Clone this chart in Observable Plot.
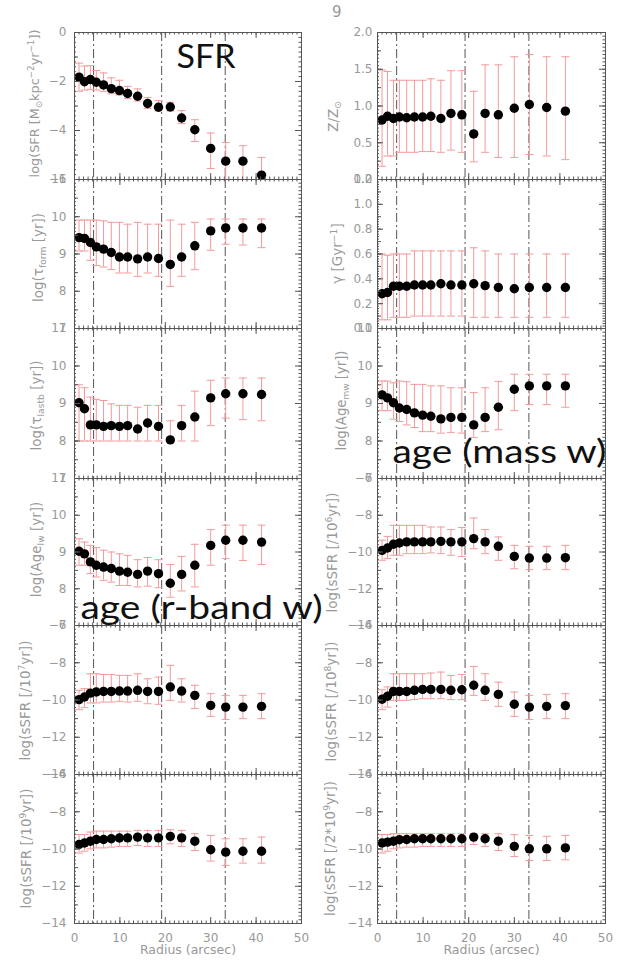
<!DOCTYPE html>
<html><head><meta charset="utf-8">
<script src="https://cdn.jsdelivr.net/npm/d3@7"></script>
<script src="https://cdn.jsdelivr.net/npm/@observablehq/plot@0.6"></script>
<style>
body{margin:0;background:#fff;}
#wrap{position:relative;width:621px;height:966px;overflow:hidden;background:#fff;}
#wrap svg{position:absolute;overflow:visible;}
#pg{position:absolute;left:332px;top:3px;font:15px "DejaVu Sans",sans-serif;color:#999;}
</style></head><body><div id="wrap"><div id="pg">9</div></div>
<script>
// ---------- data ----------
const radius = [1.0,2.2,3.5,4.8,6.4,8.1,9.9,11.7,13.9,16.1,18.5,21.1,23.6,26.5,30.0,33.3,37.1,41.2];
const vlines = [4.2,19.2,33.2];
const xMajor = [0,10,20,30,40,50];

const sfrV  = [-1.82,-2.01,-1.92,-2.03,-2.14,-2.29,-2.37,-2.49,-2.60,-2.90,-3.05,-3.04,-3.49,-3.97,-4.73,-5.25,-5.25,-5.82];
const sfrLo = [-2.40,-2.35,-2.32,-2.35,-2.40,-2.50,-2.55,-2.70,-2.80,-3.10,-3.20,-3.20,-3.72,-4.45,-5.55,-6.30,-6.30,-6.30];
const sfrHi = [-1.25,-1.37,-1.35,-1.55,-1.65,-1.85,-1.95,-2.20,-2.30,-2.65,-2.78,-2.85,-3.19,-3.56,-4.10,-4.49,-4.62,-5.10];

const zV  = [0.81,0.86,0.83,0.85,0.84,0.85,0.85,0.86,0.83,0.90,0.88,0.62,0.90,0.88,0.97,1.02,0.98,0.93];
const zLo = [0.18,0.32,0.32,0.37,0.37,0.37,0.38,0.38,0.37,0.40,0.37,0.24,0.37,0.30,0.30,0.34,0.32,0.27];
const zHi = [1.49,1.47,1.35,1.35,1.35,1.35,1.35,1.37,1.35,1.48,1.48,1.20,1.56,1.56,1.67,1.70,1.67,1.67];

const gV  = [0.28,0.29,0.34,0.34,0.34,0.35,0.35,0.35,0.36,0.35,0.35,0.36,0.345,0.33,0.32,0.33,0.33,0.33];
const gLo = [0.07,0.07,0.09,0.09,0.09,0.10,0.10,0.10,0.10,0.10,0.10,0.09,0.09,0.09,0.09,0.09,0.09,0.09];
const gHi = [0.60,0.59,0.60,0.60,0.60,0.625,0.625,0.625,0.625,0.625,0.625,0.65,0.625,0.60,0.60,0.60,0.60,0.60];

const tfV  = [9.44,9.42,9.31,9.19,9.13,9.04,8.92,8.92,8.87,8.92,8.88,8.72,8.92,9.22,9.62,9.70,9.70,9.70];
const tfLo = [9.08,9.08,8.83,8.69,8.65,8.58,8.49,8.49,8.40,8.49,8.40,8.13,8.40,8.58,9.10,9.26,9.24,9.17];
const tfHi = [9.91,9.91,9.91,9.91,9.89,9.85,9.85,9.80,9.85,9.80,9.80,9.91,9.80,9.85,9.94,9.94,9.94,9.94];

const tlV  = [9.02,8.86,8.43,8.43,8.39,8.41,8.39,8.41,8.32,8.48,8.39,8.03,8.41,8.64,9.15,9.26,9.26,9.24];
const tlLo = [8.00,8.00,8.00,8.00,8.00,8.00,8.00,8.00,8.00,8.00,8.00,7.98,8.00,8.00,8.41,8.61,8.57,8.54];
const tlHi = [9.50,9.42,9.17,9.11,9.08,8.99,8.95,8.95,8.90,8.95,8.95,8.54,8.95,9.33,9.62,9.68,9.68,9.68];

const amV  = [9.23,9.15,9.02,8.88,8.84,8.75,8.69,8.66,8.59,8.63,8.63,8.43,8.63,8.90,9.38,9.47,9.47,9.47];
const amLo = [8.81,8.81,8.58,8.52,8.43,8.36,8.25,8.25,8.21,8.23,8.21,8.09,8.25,8.30,8.81,8.97,8.97,8.90];
const amHi = [9.60,9.60,9.55,9.60,9.58,9.51,9.51,9.47,9.47,9.42,9.42,9.29,9.42,9.59,9.78,9.78,9.78,9.78];

const alV  = [9.02,8.95,8.73,8.64,8.59,8.55,8.48,8.45,8.39,8.48,8.41,8.15,8.39,8.64,9.18,9.32,9.32,9.27];
const alLo = [8.64,8.64,8.41,8.32,8.23,8.18,8.09,8.09,8.05,8.07,8.03,7.77,7.94,8.05,8.64,8.82,8.77,8.66];
const alHi = [9.36,9.27,9.18,9.12,9.05,9.00,8.95,8.91,8.79,8.85,8.79,8.66,8.88,9.21,9.61,9.73,9.73,9.73];

const s6V  = [-9.91,-9.78,-9.58,-9.51,-9.45,-9.45,-9.45,-9.45,-9.42,-9.45,-9.45,-9.27,-9.45,-9.69,-10.24,-10.33,-10.33,-10.31];
const s6Lo = [-10.45,-10.36,-10.18,-10.18,-10.09,-10.09,-10.09,-10.05,-10.09,-10.18,-10.24,-9.82,-10.09,-10.45,-10.91,-10.96,-10.96,-10.96];
const s6Hi = [-9.36,-9.15,-8.55,-8.55,-8.55,-8.55,-8.55,-8.64,-8.64,-8.78,-8.67,-8.15,-8.78,-9.18,-9.64,-9.69,-9.69,-9.64];

const s7V  = [-9.98,-9.84,-9.63,-9.57,-9.54,-9.54,-9.52,-9.52,-9.48,-9.54,-9.54,-9.30,-9.52,-9.75,-10.29,-10.38,-10.38,-10.34];
const s7Lo = [-10.52,-10.41,-10.16,-10.16,-10.11,-10.11,-10.07,-10.11,-10.07,-10.20,-10.23,-10.02,-10.11,-10.46,-10.88,-11.05,-11.00,-11.00];
const s7Hi = [-9.48,-9.39,-8.59,-8.59,-8.63,-8.63,-8.68,-8.68,-8.59,-8.86,-8.77,-8.14,-8.86,-9.21,-9.66,-9.75,-9.75,-9.66];

const s8V  = [-9.96,-9.80,-9.54,-9.54,-9.54,-9.48,-9.43,-9.43,-9.43,-9.48,-9.45,-9.21,-9.48,-9.70,-10.23,-10.38,-10.34,-10.30];
const s8Lo = [-10.52,-10.38,-10.02,-10.02,-10.02,-9.98,-9.93,-9.93,-9.93,-9.98,-9.98,-9.75,-10.02,-10.34,-10.88,-11.05,-11.00,-11.00];
const s8Hi = [-9.45,-9.30,-8.59,-8.59,-8.59,-8.59,-8.59,-8.55,-8.50,-8.68,-8.63,-8.20,-8.59,-9.04,-9.57,-9.75,-9.70,-9.66];

const s9V  = [-9.76,-9.68,-9.58,-9.49,-9.49,-9.45,-9.41,-9.40,-9.36,-9.40,-9.40,-9.32,-9.40,-9.58,-10.04,-10.17,-10.12,-10.12];
const s9Lo = [-10.22,-10.12,-9.99,-9.94,-9.94,-9.90,-9.86,-9.86,-9.81,-9.86,-9.86,-9.72,-9.86,-10.08,-10.65,-10.88,-10.76,-10.76];
const s9Hi = [-9.22,-9.22,-9.09,-9.04,-9.04,-9.04,-9.04,-9.04,-9.00,-9.00,-9.00,-8.96,-9.00,-9.18,-9.27,-9.45,-9.45,-9.36];

const s29V  = [-9.68,-9.63,-9.58,-9.50,-9.49,-9.45,-9.45,-9.45,-9.45,-9.45,-9.45,-9.36,-9.45,-9.58,-9.86,-9.99,-9.99,-9.94];
const s29Lo = [-10.22,-10.12,-9.99,-9.94,-9.90,-9.90,-9.86,-9.86,-9.86,-9.86,-9.86,-9.76,-9.86,-10.08,-10.40,-10.62,-10.62,-10.58];
const s29Hi = [-9.22,-9.22,-9.18,-9.18,-9.18,-9.18,-9.18,-9.18,-9.18,-9.18,-9.18,-9.18,-9.18,-9.18,-9.23,-9.27,-9.32,-9.27];

const sfrTicks = [-6,-4,-2,0];
const zTicks = [0,0.5,1,1.5,2];
const gTicks = [0,0.2,0.4,0.6,0.8,1.0,1.2];
const ageTicks = [7,8,9,10,11];
const ssfrTicks = [-14,-12,-10,-8,-6];

const titles = [
  "log(SFR [M_{⊙}kpc^{−2}yr^{−1}])", "Z/Z_{⊙}",
  "log(τ_{form} [yr])", "γ [Gyr^{−1}]",
  "log(τ_{lastb} [yr])", "log(Age_{mw} [yr])",
  "log(Age_{lw} [yr])", "log(sSFR [/10^{6}yr])",
  "log(sSFR [/10^{7}yr])", "log(sSFR [/10^{8}yr])",
  "log(sSFR [/10^{9}yr])", "log(sSFR [/2*10^{9}yr])"
];
const notes = ["SFR", "age (mass w)", "age (r-band w)"];

// ---------- layout / style ----------
const COLS = [{x:74, w:227, mL:74, pad:8}, {x:377, w:228, mL:70, pad:5}];
const ROWS = [32,179,328,478,625,774,923];
const GREY = "#999", FR = "#555", ERR = "#f39a9a";
const TXT = "DejaVu Sans, Liberation Sans, sans-serif";

// tdx: horizontal offset of y title from frame; tlen: title length (px); tcy: title centre (page y)
const panels = [
  {col:0,row:0,v:sfrV,lo:sfrLo,hi:sfrHi,ticks:sfrTicks,fmt:"d",tdx:-40,tlen:148,tcy:103},
  {col:1,row:0,v:zV,lo:zLo,hi:zHi,ticks:zTicks,fmt:".1f",tdx:-44,tlen:42,tcy:116},
  {col:0,row:1,v:tfV,lo:tfLo,hi:tfHi,ticks:ageTicks,fmt:"d",tdx:-36,tlen:90,tcy:257},
  {col:1,row:1,v:gV,lo:gLo,hi:gHi,ticks:gTicks,fmt:".1f",tdx:-40,tlen:73,tcy:253},
  {col:0,row:2,v:tlV,lo:tlLo,hi:tlHi,ticks:ageTicks,fmt:"d",tdx:-38,tlen:96,tcy:405},
  {col:1,row:2,v:amV,lo:amLo,hi:amHi,ticks:ageTicks,fmt:"d",tdx:-36,tlen:100,tcy:400},
  {col:0,row:3,v:alV,lo:alLo,hi:alHi,ticks:ageTicks,fmt:"d",tdx:-38,tlen:98,tcy:549},
  {col:1,row:3,v:s6V,lo:s6Lo,hi:s6Hi,ticks:ssfrTicks,fmt:"d",tdx:-45,tlen:142,tcy:552},
  {col:0,row:4,v:s7V,lo:s7Lo,hi:s7Hi,ticks:ssfrTicks,fmt:"d",tdx:-49,tlen:138,tcy:700},
  {col:1,row:4,v:s8V,lo:s8Lo,hi:s8Hi,ticks:ssfrTicks,fmt:"d",tdx:-46,tlen:140,tcy:701},
  {col:0,row:5,v:s9V,lo:s9Lo,hi:s9Hi,ticks:ssfrTicks,fmt:"d",tdx:-48,tlen:137,tcy:848},
  {col:1,row:5,v:s29V,lo:s29Lo,hi:s29Hi,ticks:ssfrTicks,fmt:"d",tdx:-47,tlen:144,tcy:848}
];
const noteCfg = {
  0: {i:0, dx:102, dy:35, w:59},
  5: {i:1, dx:15, dy:134, w:214},
  6: {i:2, dx:6, dy:140, w:242}
};

const capSymbol = {draw(ctx){ ctx.moveTo(-4,0); ctx.lineTo(4,0); }};

function richify(el, markup){
  const t = d3.select(el);
  t.text(null);
  const re = /([_^])\{([^}]*)\}|([^_^]+)/g;
  let m, shift = 0;
  while ((m = re.exec(markup))){
    if (m[3]) {
      const s = t.append("tspan").text(m[3]);
      if (shift) { s.attr("dy", -shift); shift = 0; }
    } else {
      const d = m[1] === "_" ? 3.5 : -4.5;
      t.append("tspan").attr("font-size","0.68em").attr("dy", d - shift).text(m[2]);
      shift = d;
    }
  }
}
function findText(svg, s){
  let found = null;
  d3.select(svg).selectAll("text").each(function(){ if (!found && this.textContent === s) found = this; });
  return found;
}

const wrap = document.getElementById("wrap");

panels.forEach((p, k) => {
  const c = COLS[p.col];
  const top = ROWS[p.row], fh = ROWS[p.row+1] - ROWS[p.row], fw = c.w;
  const mT = 10, mB = p.row === 5 ? 45 : 10, mR = 8, mL = c.mL;
  const data = radius.map((r,i) => ({r, v:p.v[i], lo:p.lo[i], hi:p.hi[i]}));
  const t = p.ticks, step = t[1]-t[0], y0 = t[0], y1 = t[t.length-1];
  const half = d3.range(0, Math.round((y1-y0)/step*2)+1).map(i => y0 + i*step/2);
  const fine = d3.range(0, Math.round((y1-y0)/step*10)+1).map(i => y0 + i*step/10);
  const xMinor = d3.range(0, 51, 1);
  const marks = [
    Plot.ruleX(vlines, {stroke: FR, strokeWidth: 1, strokeDasharray: "9,3,2,3"}),
    Plot.ruleX(data, {x:"r", y1:"lo", y2:"hi", stroke: ERR, strokeWidth: 1, clip: true}),
    Plot.dot(data, {x:"r", y:"lo", symbol: capSymbol, r: 4, stroke: ERR, fill: "none", strokeWidth: 1, clip: true}),
    Plot.dot(data, {x:"r", y:"hi", symbol: capSymbol, r: 4, stroke: ERR, fill: "none", strokeWidth: 1, clip: true}),
    Plot.dot(data, {x:"r", y:"v", r: 4.7, fill: "#000", stroke: "none"}),
    // y ticks (inward)
    Plot.tickY(t, {insetRight: fw-6, stroke: FR}),
    Plot.tickY(half, {insetRight: fw-4, stroke: FR}),
    Plot.tickY(fine, {insetRight: fw-2, stroke: FR}),
    Plot.tickY(t, {insetLeft: fw-6, stroke: FR}),
    Plot.tickY(fine, {insetLeft: fw-2.5, stroke: FR}),
    // x ticks (inward, top and bottom)
    Plot.tickX(xMajor, {insetBottom: fh-6, stroke: FR}),
    Plot.tickX(xMajor, {insetTop: fh-6, stroke: FR}),
    Plot.tickX(xMinor, {insetBottom: fh-2.5, stroke: FR}),
    Plot.tickX(xMinor, {insetTop: fh-2.5, stroke: FR}),
    Plot.frame({stroke: FR, strokeWidth: 1}),
    Plot.axisY(t, {anchor: "left", tickSize: 0, tickPadding: c.pad, tickFormat: d3.format(p.fmt), fontSize: 12, fill: GREY, label: null, fontFamily: TXT}),
    Plot.text([titles[k]], {frameAnchor: "left", textAnchor: "middle", lineAnchor: "middle", rotate: -90, dx: p.tdx, dy: p.tcy - (top + fh/2), fill: GREY, fontSize: 12.5, fontFamily: TXT, text: d => d})
  ];
  if (p.row === 5) {
    marks.push(Plot.axisX(xMajor, {anchor: "bottom", tickSize: 0, tickPadding: 10, tickFormat: d3.format("d"), fontSize: 12, fill: GREY, label: null, fontFamily: TXT}));
    marks.push(Plot.text(["Radius (arcsec)"], {frameAnchor: "bottom", textAnchor: "middle", dy: 30, fill: GREY, fontSize: 12.5, fontFamily: TXT, text: d => d}));
  }
  const nc = noteCfg[k];
  if (nc) {
    marks.push(Plot.text([notes[nc.i]], {frameAnchor: "top-left", dx: nc.dx, dy: nc.dy, textAnchor: "start", lineAnchor: "bottom", fontSize: 33, fontFamily: "Lato, Open Sans, sans-serif", fill: "#111", text: d => d}));
  }
  const svg = Plot.plot({
    width: mL + fw + mR, height: mT + fh + mB,
    marginLeft: mL, marginRight: mR, marginTop: mT, marginBottom: mB,
    x: p.row === 5 ? {domain: [0,50]} : {domain: [0,50], axis: null},
    y: {domain: [y0, y1]},
    style: {background: "transparent", overflow: "visible", fontFamily: TXT},
    marks
  });
  svg.style.position = "absolute";
  svg.style.left = (c.x - mL) + "px";
  svg.style.top = (top - mT) + "px";
  const titleEl = findText(svg, titles[k]);
  const noteEl = nc ? findText(svg, notes[nc.i]) : null;
  wrap.appendChild(svg);
  if (titleEl) {
    richify(titleEl, titles[k]);
    const len = titleEl.getComputedTextLength();
    if (len > 0) titleEl.setAttribute("font-size", Math.min(13.5, 12.5 * p.tlen / len).toFixed(2));
  }
  if (noteEl) {
    const len = noteEl.getComputedTextLength();
    const sx = len > 0 ? nc.w / len : 1.15;
    const tr = noteEl.getAttribute("transform") || "";
    noteEl.setAttribute("transform", tr + ` scale(${sx.toFixed(3)},1)`);
  }
});
</script>
</body></html>
